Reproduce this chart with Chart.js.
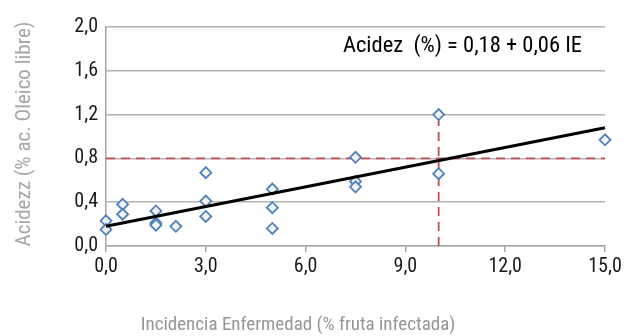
<!DOCTYPE html>
<html lang="es">
<head>
<meta charset="UTF-8">
<title>Acidez vs Incidencia</title>
<script src="https://cdn.jsdelivr.net/npm/chart.js"></script>
<style>
  html, body { margin: 0; padding: 0; background: #fff; }
  canvas { display: block; }
</style>
</head>
<body>
<canvas id="grafico" width="626" height="336"></canvas>
<script>
// datos
var incidencia = [0, 0, 0.5, 0.5, 1.5, 1.5, 1.5, 2.1, 3, 3, 3, 5, 5, 5, 7.5, 7.5, 7.5, 10, 10, 15];
var acidez     = [0.23, 0.15, 0.38, 0.29, 0.32, 0.21, 0.19, 0.18, 0.67, 0.41, 0.27, 0.52, 0.35, 0.16, 0.81, 0.59, 0.54, 1.20, 0.66, 0.97];

// recta de ajuste: Acidez = 0,18 + 0,06 IE
var ajusteX = [0, 15];
var ajusteY = [0.18, 1.08];

// lineas de referencia (limite 0,8 % y 10 % IE)
var limiteX = [0, 15];
var limiteY = [0.8, 0.8];
var corteX  = [10, 10];
var corteY  = [0, 1.2];

var ticksX = [0, 3, 6, 9, 12, 15];

var fuente = '"Liberation Sans Narrow", "Arial Narrow", "Roboto Condensed", sans-serif';

function pares(xs, ys) {
  var out = [];
  for (var i = 0; i < xs.length; i++) out.push({ x: xs[i], y: ys[i] });
  return out;
}

function coma(v) {
  return Number(v).toFixed(1).replace('.', ',');
}

// textos de los ejes y la ecuacion
var textos = {
  id: 'textos',
  afterDraw: function (chart) {
    var ctx = chart.ctx;
    ctx.save();
    ctx.font = '22.5px ' + fuente;
    ctx.fillStyle = '#000';
    ctx.textAlign = 'left';
    ctx.textBaseline = 'middle';
    ctx.fillText('Acidez  (%) = 0,18 + 0,06 IE', 343, 46);

    ctx.font = '19px ' + fuente;
    ctx.fillStyle = '#959595';
    ctx.textAlign = 'center';
    ctx.fillText('Incidencia Enfermedad (% fruta infectada)', 298, 325);

    ctx.font = '21px ' + fuente;
    ctx.fillStyle = '#a6a6a6';
    ctx.translate(25, 134);
    ctx.rotate(-Math.PI / 2);
    ctx.fillText('Acidezz (% ac. Oleico libre)', 0, 0);
    ctx.restore();
  }
};

var ctx = document.getElementById('grafico').getContext('2d');
new Chart(ctx, {
  type: 'scatter',
  data: {
    datasets: [
      {
        label: 'ajuste',
        type: 'line',
        data: pares(ajusteX, ajusteY),
        borderColor: '#000',
        borderWidth: 3,
        pointRadius: 0,
        clip: false,
        order: 0
      },
      {
        label: 'datos',
        data: pares(incidencia, acidez),
        pointStyle: 'rectRot',
        pointRadius: 5.5,
        borderColor: '#4f81bd',
        backgroundColor: '#f4f4f4',
        borderWidth: 1.8,
        clip: false,
        order: 1
      },
      {
        label: 'limite',
        type: 'line',
        data: pares(limiteX, limiteY),
        borderColor: '#c0504d',
        borderWidth: 1.8,
        borderDash: [9, 6],
        pointRadius: 0,
        order: 2
      },
      {
        label: 'corte',
        type: 'line',
        data: pares(corteX, corteY),
        borderColor: '#c0504d',
        borderWidth: 1.8,
        borderDash: [9, 6],
        pointRadius: 0,
        order: 2
      }
    ]
  },
  options: {
    responsive: false,
    animation: false,
    layout: { padding: { left: 0, right: 21, top: 27, bottom: 0 } },
    plugins: {
      legend: { display: false },
      tooltip: { enabled: false }
    },
    scales: {
      x: {
        type: 'linear',
        min: 0,
        max: 15,
        afterBuildTicks: function (axis) {
          axis.ticks = ticksX.map(function (v) { return { value: v }; });
        },
        afterFit: function (axis) { axis.height = 90; },
        grid: { drawOnChartArea: false, drawTicks: true, tickLength: 6, color: '#a6a6a6', lineWidth: 1.5 },
        border: { color: '#a6a6a6', width: 1.5 },
        ticks: {
          padding: 3,
          maxRotation: 0,
          color: '#1a1a1a',
          font: { family: fuente, size: 20 },
          callback: function (v) { return coma(v); }
        }
      },
      y: {
        min: 0,
        max: 2,
        afterFit: function (axis) { axis.width = 106; },
        grid: { drawTicks: false, color: '#b3b3b3', lineWidth: 1.5 },
        border: { color: '#a6a6a6', width: 1.5 },
        ticks: {
          stepSize: 0.4,
          padding: 8,
          color: '#1a1a1a',
          font: { family: fuente, size: 20 },
          callback: function (v) { return coma(v); }
        }
      }
    }
  },
  plugins: [textos]
});
</script>
</body>
</html>
